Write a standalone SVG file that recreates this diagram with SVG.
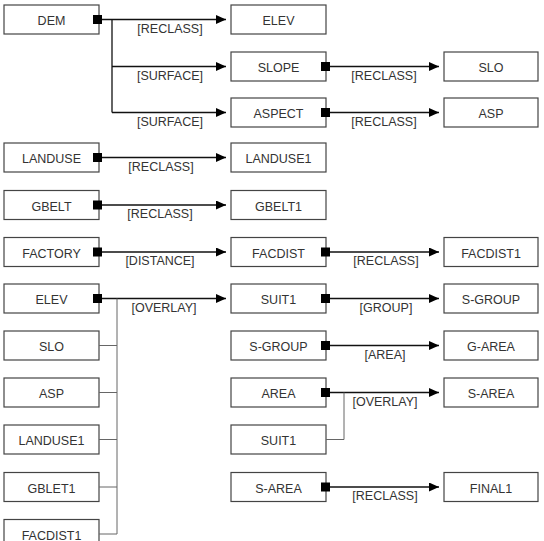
<svg xmlns="http://www.w3.org/2000/svg" width="544" height="541" viewBox="0 0 544 541">
<style>
.box rect{fill:#fff;stroke:#444;stroke-width:1.2}
.box text,.lbl{font-family:"Liberation Sans",Arial,sans-serif;font-size:12.5px;fill:#333;text-anchor:middle}
.ln{stroke:#111;stroke-width:1.3;fill:none}
.gl{stroke:#666;stroke-width:1;fill:none}
.sq{fill:#000}
</style>
<defs>
<marker id="ah" markerUnits="userSpaceOnUse" markerWidth="10" markerHeight="9" refX="10" refY="4.5" orient="auto">
<path d="M0,0 L10,4.5 L0,9 z" fill="#000"/>
</marker>
</defs>
<rect width="544" height="541" fill="#fff"/>

<!-- column 1 nodes -->
<g id="n-dem" class="box"><rect x="4" y="5" width="95" height="29"/><text x="51.5" y="25">DEM</text></g>
<g id="n-landuse" class="box"><rect x="4" y="143" width="95" height="29"/><text x="51.5" y="163">LANDUSE</text></g>
<g id="n-gbelt" class="box"><rect x="4" y="190.5" width="95" height="29"/><text x="51.5" y="210.5">GBELT</text></g>
<g id="n-factory" class="box"><rect x="4" y="237.5" width="95" height="29"/><text x="51.5" y="257.5">FACTORY</text></g>
<g id="n-elev2" class="box"><rect x="4" y="284" width="95" height="29"/><text x="51.5" y="304">ELEV</text></g>
<g id="n-slo2" class="box"><rect x="4" y="331" width="95" height="29"/><text x="51.5" y="351">SLO</text></g>
<g id="n-asp2" class="box"><rect x="4" y="378" width="95" height="29"/><text x="51.5" y="398">ASP</text></g>
<g id="n-landuse1b" class="box"><rect x="4" y="425" width="95" height="29"/><text x="51.5" y="445">LANDUSE1</text></g>
<g id="n-gblet1" class="box"><rect x="4" y="472.5" width="95" height="29"/><text x="51.5" y="492.5">GBLET1</text></g>
<g id="n-facdist1b" class="box"><rect x="4" y="519.5" width="95" height="29"/><text x="51.5" y="539.5">FACDIST1</text></g>

<!-- column 2 nodes -->
<g id="n-elev" class="box"><rect x="231" y="5" width="95" height="29"/><text x="278.5" y="25">ELEV</text></g>
<g id="n-slope" class="box"><rect x="231" y="52" width="95" height="29"/><text x="278.5" y="72">SLOPE</text></g>
<g id="n-aspect" class="box"><rect x="231" y="98" width="95" height="29"/><text x="278.5" y="118">ASPECT</text></g>
<g id="n-landuse1" class="box"><rect x="231" y="143" width="95" height="29"/><text x="278.5" y="163">LANDUSE1</text></g>
<g id="n-gbelt1" class="box"><rect x="231" y="190.5" width="95" height="29"/><text x="278.5" y="210.5">GBELT1</text></g>
<g id="n-facdist" class="box"><rect x="231" y="237.5" width="95" height="29"/><text x="278.5" y="257.5">FACDIST</text></g>
<g id="n-suit1" class="box"><rect x="231" y="284" width="95" height="29"/><text x="278.5" y="304">SUIT1</text></g>
<g id="n-sgroup" class="box"><rect x="231" y="331" width="95" height="29"/><text x="278.5" y="351">S-GROUP</text></g>
<g id="n-area" class="box"><rect x="231" y="378" width="95" height="29"/><text x="278.5" y="398">AREA</text></g>
<g id="n-suit1b" class="box"><rect x="231" y="425" width="95" height="29"/><text x="278.5" y="445">SUIT1</text></g>
<g id="n-sarea" class="box"><rect x="231" y="472.5" width="95" height="29"/><text x="278.5" y="492.5">S-AREA</text></g>

<!-- column 3 nodes -->
<g id="n-slo" class="box"><rect x="444" y="52" width="94" height="29"/><text x="491" y="72">SLO</text></g>
<g id="n-asp" class="box"><rect x="444" y="98" width="94" height="29"/><text x="491" y="118">ASP</text></g>
<g id="n-facdist1" class="box"><rect x="444" y="237.5" width="94" height="29"/><text x="491" y="257.5">FACDIST1</text></g>
<g id="n-sgroup2" class="box"><rect x="444" y="284" width="94" height="29"/><text x="491" y="304">S-GROUP</text></g>
<g id="n-garea" class="box"><rect x="444" y="331" width="94" height="29"/><text x="491" y="351">G-AREA</text></g>
<g id="n-sarea2" class="box"><rect x="444" y="378" width="94" height="29"/><text x="491" y="398">S-AREA</text></g>
<g id="n-final1" class="box"><rect x="444" y="472.5" width="94" height="29"/><text x="491" y="492.5">FINAL1</text></g>

<g id="connectors">
  <!-- DEM branches -->
  <path class="ln" d="M102,19.5 H226" marker-end="url(#ah)"/>
  <path class="ln" d="M112,19.5 V112.5"/>
  <path class="ln" d="M112,66.5 H226" marker-end="url(#ah)"/>
  <path class="ln" d="M112,112.5 H226" marker-end="url(#ah)"/>
  <rect class="sq" x="93" y="15" width="9" height="9"/>
  <text class="lbl" x="170" y="32.5">[RECLASS]</text>
  <text class="lbl" x="170" y="79.5">[SURFACE]</text>
  <text class="lbl" x="170" y="125.5">[SURFACE]</text>

  <!-- col2 -> col3 rows 1,2 -->
  <path class="ln" d="M330,66.5 H439" marker-end="url(#ah)"/>
  <rect class="sq" x="321" y="62" width="9" height="9"/>
  <text class="lbl" x="384" y="79.5">[RECLASS]</text>
  <path class="ln" d="M330,112.5 H439" marker-end="url(#ah)"/>
  <rect class="sq" x="321" y="108" width="9" height="9"/>
  <text class="lbl" x="384" y="125.5">[RECLASS]</text>

  <!-- col1 -> col2 rows 3-6 -->
  <path class="ln" d="M102,157.5 H226" marker-end="url(#ah)"/>
  <rect class="sq" x="93" y="153" width="9" height="9"/>
  <text class="lbl" x="161" y="170.5">[RECLASS]</text>
  <path class="ln" d="M102,205 H226" marker-end="url(#ah)"/>
  <rect class="sq" x="93" y="200.5" width="9" height="9"/>
  <text class="lbl" x="160" y="218">[RECLASS]</text>
  <path class="ln" d="M102,252 H226" marker-end="url(#ah)"/>
  <rect class="sq" x="93" y="247.5" width="9" height="9"/>
  <text class="lbl" x="160" y="265">[DISTANCE]</text>
  <path class="ln" d="M102,298.5 H226" marker-end="url(#ah)"/>
  <rect class="sq" x="93" y="294" width="9" height="9"/>
  <text class="lbl" x="164" y="311.5">[OVERLAY]</text>

  <!-- overlay inputs -->
  <path class="gl" d="M117,298.5 V534 M99,345.5 H117 M99,392.5 H117 M99,439.5 H117 M99,487 H117 M99,534 H117"/>

  <!-- col2 -> col3 rows 5-10 -->
  <path class="ln" d="M330,252 H439" marker-end="url(#ah)"/>
  <rect class="sq" x="321" y="247.5" width="9" height="9"/>
  <text class="lbl" x="386" y="265">[RECLASS]</text>
  <path class="ln" d="M330,298.5 H439" marker-end="url(#ah)"/>
  <rect class="sq" x="321" y="294" width="9" height="9"/>
  <text class="lbl" x="386" y="311.5">[GROUP]</text>
  <path class="ln" d="M330,345.5 H439" marker-end="url(#ah)"/>
  <rect class="sq" x="321" y="341" width="9" height="9"/>
  <text class="lbl" x="385" y="358.5">[AREA]</text>
  <path class="ln" d="M330,392.5 H439" marker-end="url(#ah)"/>
  <rect class="sq" x="321" y="388" width="9" height="9"/>
  <text class="lbl" x="385" y="405.5">[OVERLAY]</text>
  <path class="gl" d="M344,392.5 V439.5 H326"/>
  <path class="ln" d="M330,487 H439" marker-end="url(#ah)"/>
  <rect class="sq" x="321" y="482.5" width="9" height="9"/>
  <text class="lbl" x="385" y="500">[RECLASS]</text>
</g>
</svg>
